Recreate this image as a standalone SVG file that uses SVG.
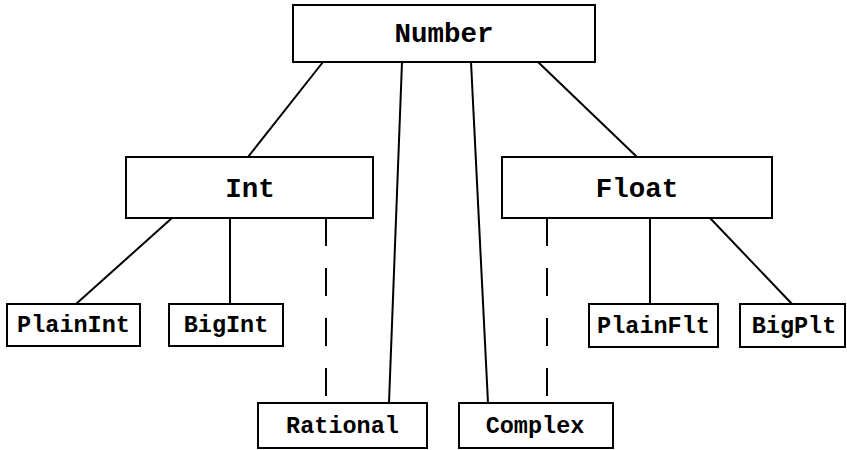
<svg xmlns="http://www.w3.org/2000/svg" width="847" height="450" viewBox="0 0 847 450">
<style>
.box{fill:#fff;stroke:#000;stroke-width:2}
.big{font-family:"Liberation Mono","DejaVu Sans Mono",monospace;font-weight:bold;font-size:27.5px;text-anchor:middle;fill:#000}
.small{font-family:"Liberation Mono","DejaVu Sans Mono",monospace;font-weight:bold;font-size:23.5px;text-anchor:middle;fill:#000}
.edge{stroke:#000;stroke-width:2;fill:none}
.dash{stroke-dasharray:28 22}
</style>
<rect width="847" height="450" fill="#fff"/>
<g id="connectors">
<line class="edge" x1="323" y1="62" x2="248" y2="157"/>
<line class="edge" x1="402" y1="62" x2="389" y2="403"/>
<line class="edge" x1="471" y1="62" x2="488" y2="403"/>
<line class="edge" x1="538" y1="62" x2="637" y2="157"/>
<line class="edge" x1="172" y1="218" x2="76" y2="304"/>
<line class="edge" x1="230" y1="218" x2="230" y2="304"/>
<line class="edge dash" x1="326" y1="218" x2="326" y2="403"/>
<line class="edge dash" x1="547" y1="218" x2="547" y2="403"/>
<line class="edge" x1="650" y1="218" x2="650" y2="304"/>
<line class="edge" x1="710" y1="218" x2="792" y2="304"/>
</g>
<g id="number"><rect class="box" x="293" y="5" width="302" height="57"/><text class="big" x="444" y="42">Number</text></g>
<g id="int"><rect class="box" x="126" y="157" width="247" height="61"/><text class="big" x="250" y="197">Int</text></g>
<g id="float"><rect class="box" x="502" y="157" width="270" height="61"/><text class="big" x="637" y="197">Float</text></g>
<g id="plainint"><rect class="box" x="7" y="304" width="133" height="42"/><text class="small" x="73.5" y="332">PlainInt</text></g>
<g id="bigint"><rect class="box" x="169" y="304" width="114" height="42"/><text class="small" x="226" y="332">BigInt</text></g>
<g id="plainflt"><rect class="box" x="589" y="304" width="129" height="43"/><text class="small" x="653.5" y="333">PlainFlt</text></g>
<g id="bigplt"><rect class="box" x="740" y="304" width="105" height="43"/><text class="small" x="794" y="333">BigPlt</text></g>
<g id="rational"><rect class="box" x="258" y="403" width="169" height="45"/><text class="small" x="342.5" y="433">Rational</text></g>
<g id="complex"><rect class="box" x="459" y="403" width="154" height="45"/><text class="small" x="535" y="433">Complex</text></g>
</svg>
